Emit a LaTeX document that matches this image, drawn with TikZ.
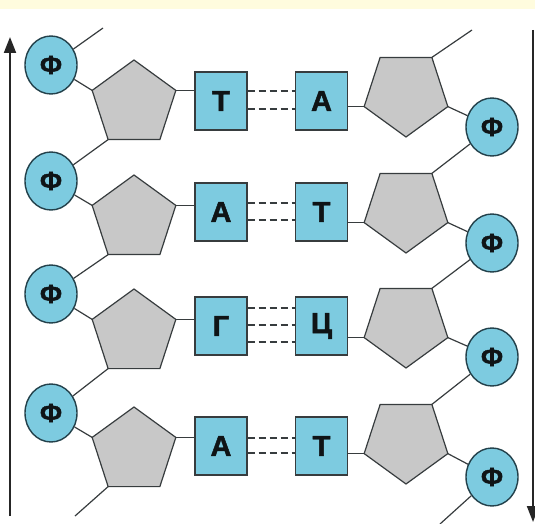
\documentclass[tikz,border=0pt]{standalone}
\usepackage{fontspec}
\setmainfont{Liberation Sans}
\newfontfamily\heavyfont{Liberation Sans Bold}[FakeBold=1.6]
\usetikzlibrary{shapes.geometric,arrows.meta,calc}
\definecolor{cyanfill}{RGB}{125,203,224}
\definecolor{pentfill}{RGB}{200,200,200}
\definecolor{edgegray}{RGB}{55,60,62}
\definecolor{phosedge}{RGB}{35,65,75}
\definecolor{bandcol}{RGB}{255,252,222}
\definecolor{inkcol}{RGB}{15,20,22}
\begin{document}
\begin{tikzpicture}[x=1pt,y=-1pt,
 phos/.style={ellipse, draw=phosedge, fill=cyanfill, line width=1.4pt, minimum width=52pt, minimum height=58pt, inner sep=0pt, text=inkcol, font=\fontsize{26}{26}\heavyfont},
 base/.style={rectangle, draw=edgegray, fill=cyanfill, line width=1.2pt, minimum width=52pt, minimum height=58pt, inner sep=0pt, text=inkcol, font=\fontsize{29}{29}\heavyfont},
 sugarL/.style={regular polygon, regular polygon sides=5, draw=edgegray, fill=pentfill, line width=1.2pt, minimum size=88pt, inner sep=0pt, outer sep=0pt},
 sugarR/.style={sugarL, shape border rotate=180},
 bond/.style={draw=edgegray, line width=1.2pt},
 hbond/.style={draw=edgegray, line width=1.4pt, dash pattern=on 7pt off 4pt},
 strand/.style={draw=black!85, line width=2pt, -{Triangle[length=16pt,width=12pt]}}
]
\useasboundingbox (0,0) rectangle (535,524);
\fill[bandcol] (0,0) rectangle (535,9);

\foreach \i/\lp/\ls/\lq/\rs/\rp/\ll/\rl in {1/65/104/101/93/127/Т/А, 2/181/219/212/209/243/А/Т, 3/294/333/326/324/357/Г/Ц, 4/413/451/446/440/477/А/Т}{
 \node[sugarL] (sL\i) at (134,\ls) {};
 \node[sugarR] (sR\i) at (406,\rs) {};
 \node[phos] (pL\i) at (51,\lp) {Ф};
 \node[phos] (pR\i) at (492,\rp) {Ф};
 \node[base] (bL\i) at (221,\lq) {\ll};
 \node[base] (bR\i) at (321.5,\lq) {\rl};
 \draw[bond] (sL\i.corner 5) -- (sL\i.corner 5 -| bL\i.west);
 \draw[bond] (sR\i.corner 5 -| bR\i.east) -- (sR\i.corner 5);
 \draw[bond] (pL\i) -- (sL\i.corner 2);
 \draw[bond] (sR\i.corner 2) -- (pR\i);
}

\foreach \i/\j in {1/2,2/3,3/4}{
 \draw[bond] (sL\i.corner 3) -- (pL\j);
 \draw[bond] (pR\i) -- (sR\j.corner 3);
}

\foreach \i/\o in {1/-10,1/8,2/-9,2/8,3/-18,3/-1,3/16,4/-8,4/7}{
 \draw[hbond] ($(bL\i.east)+(0,\o)$) -- ($(bL\i.east -| bR\i.west)+(0,\o)$);
}

\coordinate (tL) at (103,28);
\coordinate (bLend) at (75,516);
\coordinate (tR) at (472,30);
\coordinate (bRend) at (440,524);
\draw[bond] (pL1) -- (tL);
\draw[bond] (sL4.corner 3) -- (bLend);
\draw[bond] (sR1.corner 3) -- (tR);
\draw[bond] (pR4) -- (bRend);

\coordinate (aLs) at (10,516);
\coordinate (aLe) at (10,37);
\coordinate (aRs) at (533,30);
\coordinate (aRe) at (533,522);
\draw[strand] (aLs) -- (aLe);
\draw[strand] (aRs) -- (aRe);
\end{tikzpicture}
\end{document}
